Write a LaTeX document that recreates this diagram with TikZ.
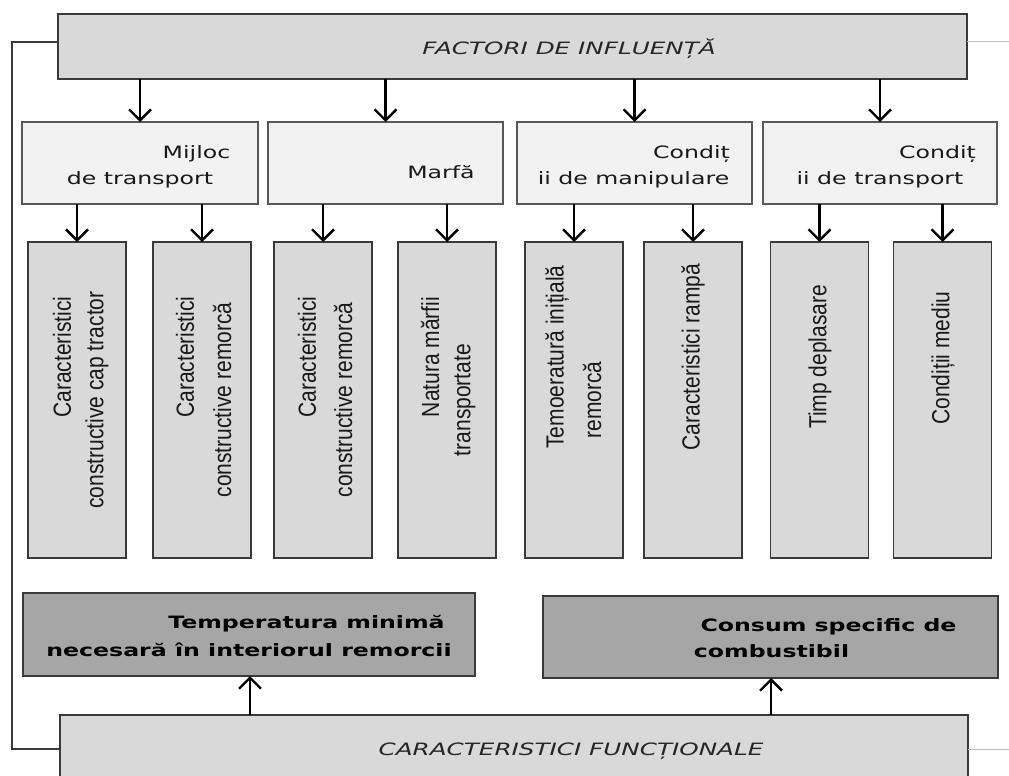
\documentclass[tikz,border=0pt]{standalone}
\usepackage{fontspec}
\setmainfont{DejaVu Sans}
\newfontfamily\rotfont{Liberation Sans}
\usetikzlibrary{arrows.meta}
\definecolor{boxa}{HTML}{D9D9D9}
\definecolor{boxb}{HTML}{F2F2F2}
\definecolor{boxc}{HTML}{A6A6A6}
\definecolor{edgec}{HTML}{3A3A3A}
\definecolor{thinc}{HTML}{BDBDBD}
\newcommand\hstretch[1]{\scalebox{1.39}[1]{#1}}
\newcommand\istretch[1]{\scalebox{1.45}[1]{#1}}
\newcommand\vstretch[1]{\scalebox{1}[1.18]{#1}}
\tikzset{
  x=1pt, y=-1pt,
  boxbase/.style={draw=edgec, line width=1.5pt, inner sep=0pt, outer sep=0pt},
  mainbox/.style={boxbase, fill=boxa},
  catbox/.style={boxbase, draw=edgec!85, fill=boxb, minimum height=82pt},
  factbox/.style={boxbase, fill=boxa, minimum width=98pt, minimum height=316pt},
  resbox/.style={boxbase, fill=boxc},
  lbl/.style={inner sep=0pt, anchor=base, font=\fontsize{17}{20}\selectfont, text=black!90},
  blbl/.style={lbl, font=\fontsize{17}{20}\selectfont\bfseries, text=black},
  ilbl/.style={lbl, font=\fontsize{17}{20}\selectfont\itshape, text=black!85},
  rlbl/.style={inner sep=0pt, anchor=center, rotate=90, font=\rotfont\fontsize{21}{24}\selectfont, text=black!90},
  arr/.style={line width=2.4pt, black, -{Straight Barb[length=11pt,width=22pt]}},
  loopline/.style={line width=1.5pt, edgec},
  thinline/.style={line width=1pt, thinc},
}
\begin{document}
\begin{tikzpicture}
\clip (0,0) rectangle (1009,776);
\fill[white] (0,0) rectangle (1009,776);

% top box
\node[mainbox, minimum width=909pt, minimum height=65pt] (top) at (512.5,46.5) {};
\node[ilbl] (toptxt) at (569,55) {\istretch{FACTORI DE INFLUENȚĂ}};

% category boxes
\node[catbox, minimum width=236pt] (m1) at (140,163) {};
\node[catbox, minimum width=235pt] (m2) at (385.5,163) {};
\node[catbox, minimum width=235pt] (m3) at (634.5,163) {};
\node[catbox, minimum width=234pt] (m4) at (880,163) {};
\node[lbl] (m1a) at (196.5,158) {\hstretch{Mijloc}};
\node[lbl] (m1b) at (140,184) {\hstretch{de transport}};
\node[lbl] (m2a) at (441,178) {\hstretch{Marfă}};
\node[lbl] (m3a) at (691.5,158) {\hstretch{Condiț}};
\node[lbl] (m3b) at (633.5,184) {\hstretch{ii de manipulare}};
\node[lbl] (m4a) at (937.5,158) {\hstretch{Condiț}};
\node[lbl] (m4b) at (880,184) {\hstretch{ii de transport}};

% factor boxes
\node[factbox] (c1) at (77,400) {};
\node[factbox] (c2) at (202,400) {};
\node[factbox] (c3) at (323,400) {};
\node[factbox] (c4) at (447,400) {};
\node[factbox] (c5) at (574,400) {};
\node[factbox] (c6) at (693,400) {};
\node[factbox] (c7) at (819.5,400) {};
\node[factbox] (c8) at (942.5,400) {};
\node[rlbl] (c1a) at (62,357) {\vstretch{Caracteristici}};
\node[rlbl] (c1b) at (97,400) {\vstretch{constructive cap tractor}};
\node[rlbl] (c2a) at (185,357) {\vstretch{Caracteristici}};
\node[rlbl] (c2b) at (222,400) {\vstretch{constructive remorcă}};
\node[rlbl] (c3a) at (307,357) {\vstretch{Caracteristici}};
\node[rlbl] (c3b) at (343,400) {\vstretch{constructive remorcă}};
\node[rlbl] (c4a) at (430,357) {\vstretch{Natura mărfii}};
\node[rlbl] (c4b) at (465,400) {\vstretch{transportate}};
\node[rlbl] (c5a) at (557,357) {\vstretch{Temoeratură inițială}};
\node[rlbl] (c5b) at (592,400) {\vstretch{remorcă}};
\node[rlbl] (c6a) at (693,357) {\vstretch{Caracteristici rampă}};
\node[rlbl] (c7a) at (820,357) {\vstretch{Timp deplasare}};
\node[rlbl] (c8a) at (943,358) {\vstretch{Condiții mediu}};

% result boxes
\node[resbox, minimum width=452pt, minimum height=83pt] (r1) at (249,634.5) {};
\node[resbox, minimum width=455pt, minimum height=82pt] (r2) at (770.5,637) {};
\node[blbl] (r1a) at (306.5,628) {\hstretch{Temperatura minimă}};
\node[blbl] (r1b) at (249,656) {\hstretch{necesară în interiorul remorcii}};
\node[blbl] (r2a) at (828.5,631) {\hstretch{Consum specific de}};
\node[blbl] (r2b) at (771.5,657) {\hstretch{combustibil}};

% bottom box
\node[mainbox, minimum width=908pt, minimum height=66pt] (bot) at (514,748) {};
\node[ilbl] (bottxt) at (571,755) {\istretch{CARACTERISTICI FUNCȚIONALE}};

% arrows top -> categories
\foreach \m in {m1,m2,m3,m4} \draw[arr] (top.south -| \m) -- (\m.north);
% categories -> factors
\draw[arr] (m1.south -| c1) -- (c1.north);
\draw[arr] (m1.south -| c2) -- (c2.north);
\draw[arr] (m2.south -| c3) -- (c3.north);
\draw[arr] (m2.south -| c4) -- (c4.north);
\draw[arr] (m3.south -| c5) -- (c5.north);
\draw[arr] (m3.south -| c6) -- (c6.north);
\draw[arr] (m4.south -| c7) -- (c7.north);
\draw[arr] (m4.south -| c8) -- (c8.north);
% bottom -> results
\coordinate (ua) at (250,715);
\coordinate (ub) at (771,715);
\draw[arr] (bot.north -| ua) -- (r1.south -| ua);
\draw[arr] (bot.north -| ub) -- (r2.south -| ub);

% side connectors
\coordinate (tl) at (12,42);
\coordinate (bl) at (12,749);
\coordinate (tr) at (1009,42);
\coordinate (br) at (1009,749);
\draw[loopline] (top.west |- tl) -- (tl) -- (bl) -- (bot.west |- bl);
\draw[thinline] (top.east |- tr) -- (tr);
\draw[thinline] (bot.east |- br) -- (br);
\end{tikzpicture}
\end{document}
